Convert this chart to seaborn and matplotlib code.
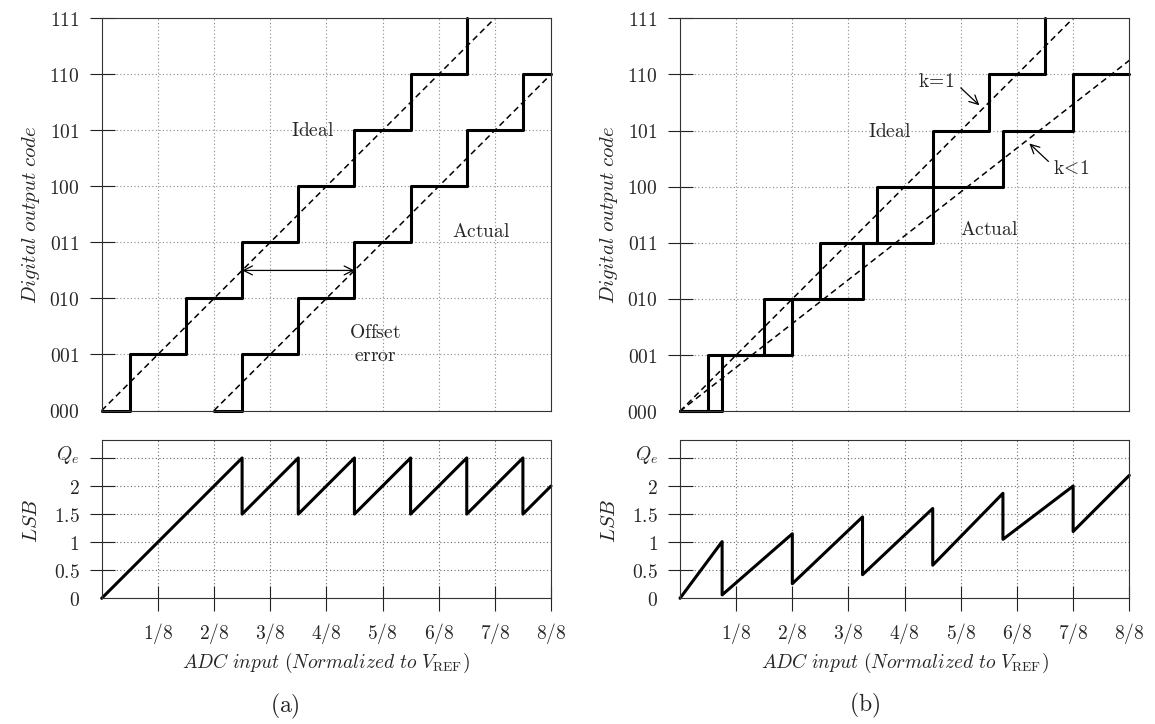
import numpy as np
import matplotlib
matplotlib.use("Agg")
import matplotlib.pyplot as plt
import matplotlib.transforms as mtransforms
import seaborn as sns

# ---------------- data ----------------
x_tick_pos = [1, 2, 3, 4, 5, 6, 7, 8]
x_tick_labels = ["1/8", "2/8", "3/8", "4/8", "5/8", "6/8", "7/8", "8/8"]
code_pos = [0, 1, 2, 3, 4, 5, 6, 7]
code_labels = ["000", "001", "010", "011", "100", "101", "110", "111"]
err_tick_pos = [0, 0.5, 1, 1.5, 2, 2.5]
err_tick_labels = ["0", "0.5", "1", "1.5", "2", "Q_e"]

# ideal transfer: code transitions
ideal_edges = [0.5, 1.5, 2.5, 3.5, 4.5, 5.5, 6.5]
# offset-error transfer
offset_start = 2.0
offset_edges = [2.5, 3.5, 4.5, 5.5, 6.5, 7.5]
offset_end = 8.0
# gain-error transfer
gain_edges = [0.75, 2.0, 3.25, 4.5, 5.75, 7.0]
gain_end = 8.0

# dashed reference lines (x pair, y pair)
ideal_line_x, ideal_line_y = [0, 7], [0, 7]
offset_line_x, offset_line_y = [2, 8], [0, 6]
gain_line_x, gain_line_y = [0, 8], [0, 6.25]

# quantisation error (LSB): values just before / after each transition
err_a_edges = [2.5, 3.5, 4.5, 5.5, 6.5, 7.5]
err_a_peaks = [2.5, 2.5, 2.5, 2.5, 2.5, 2.5]
err_a_troughs = [1.5, 1.5, 1.5, 1.5, 1.5, 1.5]
err_a_end = 2.0

err_b_edges = [0.75, 2.0, 3.25, 4.5, 5.75, 7.0]
err_b_peaks = [1.01, 1.15, 1.45, 1.6, 1.87, 2.0]
err_b_troughs = [0.06, 0.26, 0.42, 0.59, 1.05, 1.19]
err_b_end = 2.19


def stair(start, edges, end=None):
    xs = [start] + list(edges)
    ys = list(range(len(xs)))
    if end is not None:
        xs.append(end)
        ys.append(ys[-1])
    return xs, ys


def saw(edges, peaks, troughs, end):
    xs, ys = [0.0], [0.0]
    for e, p, t in zip(edges, peaks, troughs):
        xs += [e, e]
        ys += [p, t]
    xs.append(8.0)
    ys.append(end)
    return xs, ys


# ---------------- style ----------------
sns.set_theme(style="white")
plt.rcParams["mathtext.fontset"] = "cm"
plt.rcParams["font.family"] = ["DejaVu Sans"]
plt.rcParams["axes.edgecolor"] = "#333333"
plt.rcParams["axes.linewidth"] = 0.8

W, H = 1155, 724
fig = plt.figure(figsize=(W / 100, H / 100), dpi=100)
fig.patch.set_facecolor("white")


def ax_rect(left, right, top, bottom):
    return [left / W, 1 - bottom / H, (right - left) / W, (bottom - top) / H]


FS = 14
STEP_LW = 2.2
DASH = (0, (4, 2.6))


def mt(s):
    return r"$\mathrm{" + s.replace(" ", r"\ ") + "}$"


def style_top(ax):
    ax.set_xlim(0, 8)
    ax.set_ylim(0, 7)
    ax.set_xticks(x_tick_pos)
    ax.set_xticklabels([])
    ax.tick_params(axis="x", length=0)
    ax.set_yticks(code_pos)
    ax.set_yticklabels([mt(c) for c in code_labels], fontsize=FS)
    ax.tick_params(axis="y", direction="inout", length=18, width=0.8,
                   color="#222222", pad=7, left=True)
    ax.yaxis.get_major_ticks()[0].tick1line.set_visible(False)
    ax.grid(True, linestyle=(0, (1, 2.2)), color="#8a8a8a", lw=0.8)
    ax.set_xlabel("")
    ax.set_ylabel(r"$Digital\ output\ code$", fontsize=FS + 1)
    ax.yaxis.set_label_coords(-0.158, 0.5)
    ax.yaxis.label.set_va("center")
    ax.yaxis.label.set_ha("center")
    for s in ax.spines.values():
        s.set_visible(True)


def style_err(ax):
    ax.set_xlim(0, 8)
    ax.set_ylim(0, 2.82)
    ax.set_xticks(x_tick_pos)
    ax.set_xticklabels([mt(t) for t in x_tick_labels], fontsize=FS)
    ax.set_yticks(err_tick_pos)
    labs = [(r"$Q_e$" if t == "Q_e" else mt(t)) for t in err_tick_labels]
    ax.set_yticklabels(labs, fontsize=FS)
    ax.tick_params(axis="both", direction="inout", length=18, width=0.8,
                   color="#222222", pad=7, left=True, bottom=True)
    ax.yaxis.get_major_ticks()[0].tick1line.set_visible(False)
    ax.grid(True, linestyle=(0, (1, 2.2)), color="#6a6a6a", lw=0.8)
    ax.set_ylabel(r"$LSB$", fontsize=FS + 1)
    ax.yaxis.set_label_coords(-0.158, 0.49)
    ax.yaxis.label.set_va("center")
    ax.yaxis.label.set_ha("center")
    ax.set_xlabel(r"$ADC\ input\ (Normalized\ to\ V_{\mathrm{REF}})$", fontsize=FS)
    ax.xaxis.set_label_coords(0.5, -0.41)
    ax.xaxis.label.set_va("center")
    # raise the Q_e label a little
    off = mtransforms.ScaledTranslation(0, 6 / 100, fig.dpi_scale_trans)
    lab = ax.get_yticklabels()[-1]
    lab.set_transform(lab.get_transform() + off)
    for s in ax.spines.values():
        s.set_visible(True)


def line(ax, xs, ys, **kw):
    sns.lineplot(x=np.asarray(xs, float), y=np.asarray(ys, float), ax=ax,
                 estimator=None, sort=False, color="black", legend=False,
                 clip_on=False, **kw)


# ---------------- panel (a) ----------------
axA = fig.add_axes(ax_rect(101.7, 551, 18.3, 410.5))
axAe = fig.add_axes(ax_rect(101.7, 551, 440, 598.3))
axB = fig.add_axes(ax_rect(680, 1129.3, 18.3, 411.2))
axBe = fig.add_axes(ax_rect(680, 1129.3, 440, 598.3))

for ax in (axA, axB):
    xs, ys = stair(0.0, ideal_edges)
    line(ax, xs, ys, lw=STEP_LW, drawstyle="steps-post")
    line(ax, ideal_line_x, ideal_line_y, lw=1.1, linestyle=DASH)

xs, ys = stair(offset_start, offset_edges, offset_end)
line(axA, xs, ys, lw=STEP_LW, drawstyle="steps-post")
line(axA, offset_line_x, offset_line_y, lw=1.1, linestyle=DASH)

xs, ys = stair(0.0, gain_edges, gain_end)
line(axB, xs, ys, lw=STEP_LW, drawstyle="steps-post")
line(axB, gain_line_x, gain_line_y, lw=1.1, linestyle=DASH)

xs, ys = saw(err_a_edges, err_a_peaks, err_a_troughs, err_a_end)
line(axAe, xs, ys, lw=STEP_LW)
xs, ys = saw(err_b_edges, err_b_peaks, err_b_troughs, err_b_end)
line(axBe, xs, ys, lw=STEP_LW)

style_top(axA)
style_top(axB)
style_err(axAe)
style_err(axBe)

# annotations (a)
axA.text(3.75, 5.0, mt("Ideal"), fontsize=FS, ha="center", va="center")
axA.text(6.75, 3.2, mt("Actual"), fontsize=FS, ha="center", va="center")
axA.text(4.87, 1.19, mt("Offset") + "\n" + mt("error"), fontsize=FS,
         ha="center", va="center", linespacing=1.25)
axA.annotate("", xy=(4.5, 2.5), xytext=(2.5, 2.5),
             arrowprops=dict(arrowstyle="<->", lw=0.9, color="black",
                             shrinkA=0, shrinkB=0, mutation_scale=16))

# annotations (b)
axB.text(3.74, 4.98, mt("Ideal"), fontsize=FS, ha="center", va="center")
axB.text(5.51, 3.23, mt("Actual"), fontsize=FS, ha="center", va="center")
axB.text(4.57, 5.87, r"$\mathrm{k}\!=\!1$", fontsize=FS, ha="center", va="center")
axB.text(6.97, 4.33, r"$\mathrm{k}\!<\!1$", fontsize=FS, ha="center", va="center")
axB.annotate("", xy=(5.33, 5.45), xytext=(5.0, 5.76),
             arrowprops=dict(arrowstyle="->", lw=0.9, color="black",
                             shrinkA=0, shrinkB=0, mutation_scale=16))
axB.annotate("", xy=(6.22, 4.77), xytext=(6.56, 4.45),
             arrowprops=dict(arrowstyle="->", lw=0.9, color="black",
                             shrinkA=0, shrinkB=0, mutation_scale=16))

# captions
fig.text(285 / W, 1 - 706 / H, mt("(a)"), fontsize=17, ha="center", va="center")
fig.text(865 / W, 1 - 705 / H, mt("(b)"), fontsize=17, ha="center", va="center")

fig.savefig("out.png", dpi=100, facecolor="white")
